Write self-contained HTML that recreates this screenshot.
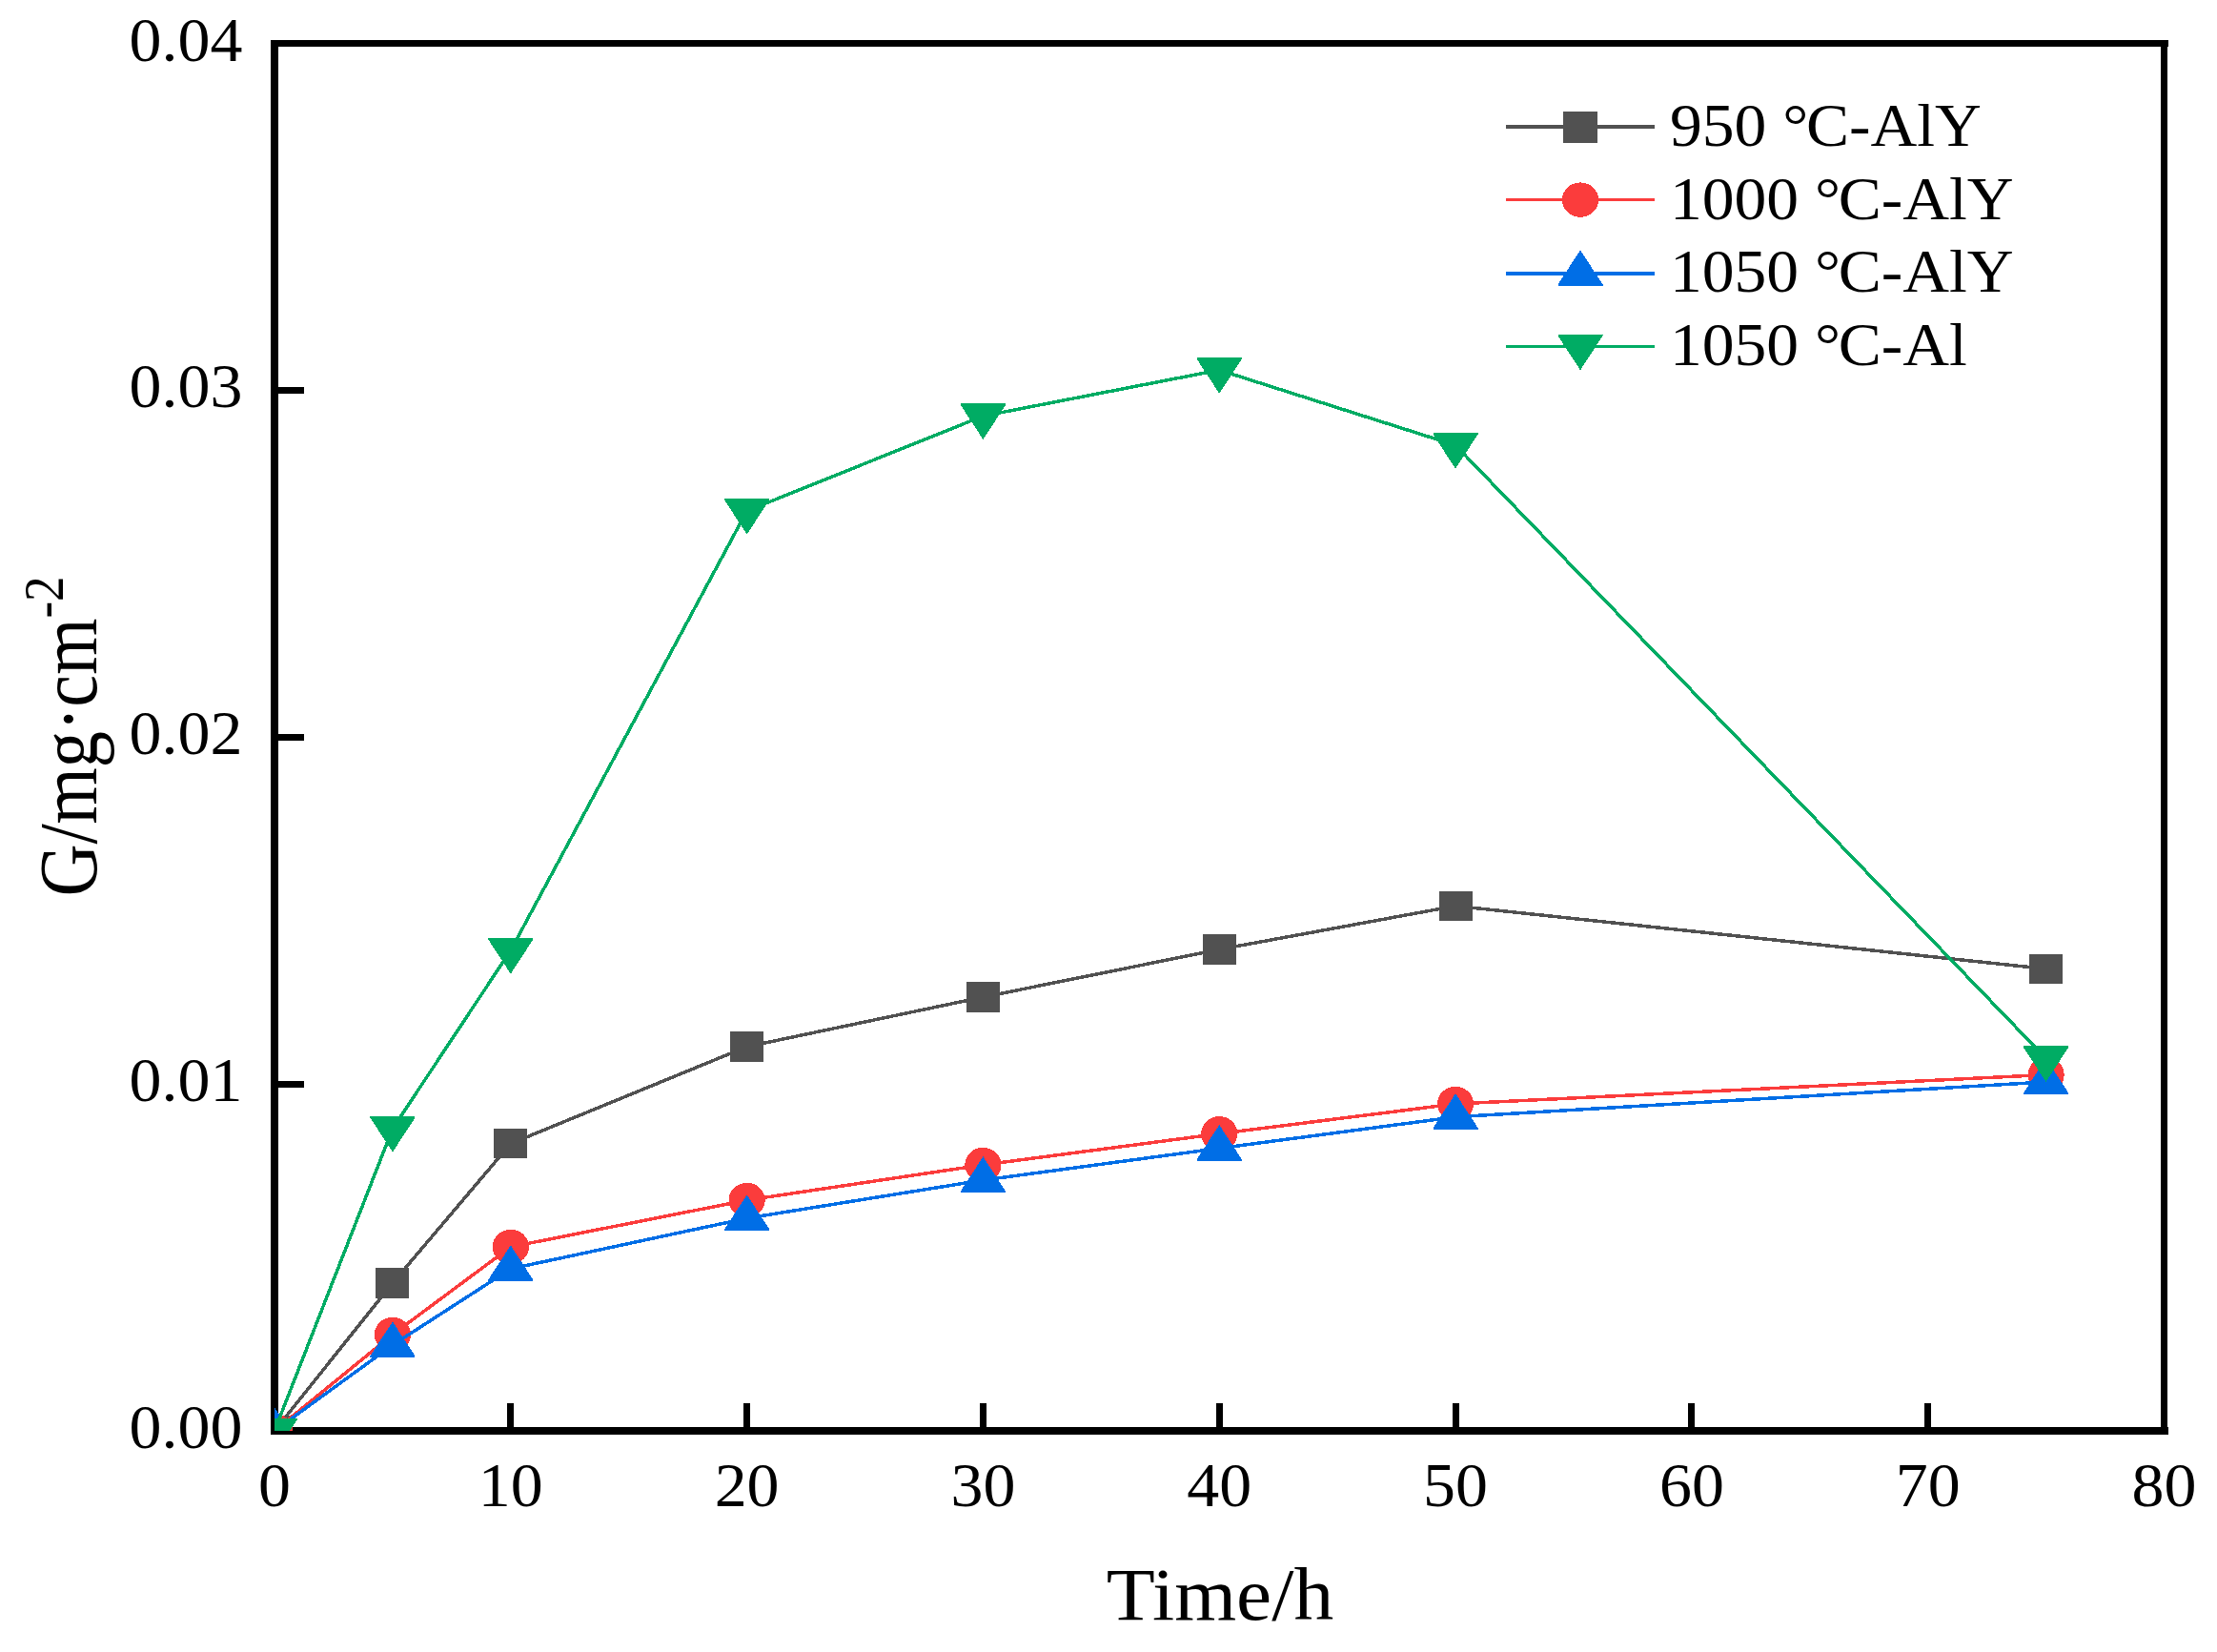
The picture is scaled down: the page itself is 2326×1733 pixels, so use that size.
<!DOCTYPE html>
<html lang="en"><head><meta charset="utf-8"><title>G vs Time</title>
<style>html,body{margin:0;padding:0;background:#fff}svg{display:block}text{font-family:"Liberation Serif",serif;fill:#000}</style>
</head><body>
<svg width="2326" height="1733" viewBox="0 0 2326 1733">
<rect x="0" y="0" width="2326" height="1733" fill="#fff"/>
<defs><clipPath id="plotclip"><rect x="288" y="45.5" width="1982.5" height="1455.5"/></clipPath></defs>
<g fill="#000" shape-rendering="crispEdges">
<rect x="284" y="42" width="8" height="1463"/>
<rect x="284" y="1497" width="1991" height="8"/>
<rect x="284" y="42" width="1991" height="7"/>
<rect x="2267" y="42" width="7" height="1463"/>
<rect x="532" y="1472" width="7" height="26"/>
<rect x="780" y="1472" width="7" height="26"/>
<rect x="1028" y="1472" width="7" height="26"/>
<rect x="1276" y="1472" width="7" height="26"/>
<rect x="1524" y="1472" width="7" height="26"/>
<rect x="1771" y="1472" width="7" height="26"/>
<rect x="2019" y="1472" width="7" height="26"/>
<rect x="291" y="1134" width="28" height="7"/>
<rect x="291" y="770" width="28" height="7"/>
<rect x="291" y="406" width="28" height="7"/>
</g>
<g font-size="65">
<text transform="translate(288,1580) scale(1.045,1)" text-anchor="middle">0</text>
<text transform="translate(535.81,1580) scale(1.045,1)" text-anchor="middle">10</text>
<text transform="translate(783.62,1580) scale(1.045,1)" text-anchor="middle">20</text>
<text transform="translate(1031.44,1580) scale(1.045,1)" text-anchor="middle">30</text>
<text transform="translate(1279.25,1580) scale(1.045,1)" text-anchor="middle">40</text>
<text transform="translate(1527.06,1580) scale(1.045,1)" text-anchor="middle">50</text>
<text transform="translate(1774.88,1580) scale(1.045,1)" text-anchor="middle">60</text>
<text transform="translate(2022.69,1580) scale(1.045,1)" text-anchor="middle">70</text>
<text transform="translate(2270.5,1580) scale(1.045,1)" text-anchor="middle">80</text>
<text transform="translate(254.4,1519.1) scale(1.045,1)" text-anchor="end">0.00</text>
<text transform="translate(254.4,1155.22) scale(1.045,1)" text-anchor="end">0.01</text>
<text transform="translate(254.4,791.35) scale(1.045,1)" text-anchor="end">0.02</text>
<text transform="translate(254.4,427.48) scale(1.045,1)" text-anchor="end">0.03</text>
<text transform="translate(254.4,63.6) scale(1.045,1)" text-anchor="end">0.04</text>
</g>
<text font-size="78.5" transform="translate(1280,1698.7) scale(1.064,1)" text-anchor="middle">Time/h</text>
<text font-size="76.2" transform="translate(100.5,772.5) rotate(-90) scale(1,1.13)" text-anchor="middle">G/mg·cm<tspan font-size="53" dy="-30.5">-2</tspan></text>
<g clip-path="url(#plotclip)" shape-rendering="crispEdges">
<polyline points="288,1501 411.91,1346 535.81,1199.7 783.62,1098 1031.44,1046 1279.25,996 1527.06,950.4 2146.59,1016.4" fill="none" stroke="#515151" stroke-width="3.5" stroke-linejoin="round"/>
<rect x="270.5" y="1485.25" width="35" height="31.5" fill="#515151"/>
<rect x="394.41" y="1330.25" width="35" height="31.5" fill="#515151"/>
<rect x="518.31" y="1183.95" width="35" height="31.5" fill="#515151"/>
<rect x="766.12" y="1082.25" width="35" height="31.5" fill="#515151"/>
<rect x="1013.94" y="1030.25" width="35" height="31.5" fill="#515151"/>
<rect x="1261.75" y="980.25" width="35" height="31.5" fill="#515151"/>
<rect x="1509.56" y="934.65" width="35" height="31.5" fill="#515151"/>
<rect x="2129.09" y="1000.65" width="35" height="31.5" fill="#515151"/>
<polyline points="288,1501 411.91,1400 535.81,1308 783.62,1259 1031.44,1222 1279.25,1189.3 1527.06,1158 2146.59,1127.5" fill="none" stroke="#FB3C3C" stroke-width="3.5" stroke-linejoin="round"/>
<ellipse cx="288" cy="1501" rx="19.1" ry="18.2" fill="#FB3C3C"/>
<ellipse cx="411.91" cy="1400" rx="19.1" ry="18.2" fill="#FB3C3C"/>
<ellipse cx="535.81" cy="1308" rx="19.1" ry="18.2" fill="#FB3C3C"/>
<ellipse cx="783.62" cy="1259" rx="19.1" ry="18.2" fill="#FB3C3C"/>
<ellipse cx="1031.44" cy="1222" rx="19.1" ry="18.2" fill="#FB3C3C"/>
<ellipse cx="1279.25" cy="1189.3" rx="19.1" ry="18.2" fill="#FB3C3C"/>
<ellipse cx="1527.06" cy="1158" rx="19.1" ry="18.2" fill="#FB3C3C"/>
<ellipse cx="2146.59" cy="1127.5" rx="19.1" ry="18.2" fill="#FB3C3C"/>
<polyline points="288,1501 411.91,1411 535.81,1331 783.62,1278 1031.44,1238 1279.25,1204.6 1527.06,1171.7 2146.59,1135" fill="none" stroke="#006EE6" stroke-width="3.5" stroke-linejoin="round"/>
<polygon points="288,1476.4 311.5,1512.4 311.5,1514 264.5,1514 264.5,1512.4" fill="#006EE6"/>
<polygon points="411.91,1386.4 435.41,1422.4 435.41,1424 388.41,1424 388.41,1422.4" fill="#006EE6"/>
<polygon points="535.81,1306.4 559.31,1342.4 559.31,1344 512.31,1344 512.31,1342.4" fill="#006EE6"/>
<polygon points="783.62,1253.4 807.12,1289.4 807.12,1291 760.12,1291 760.12,1289.4" fill="#006EE6"/>
<polygon points="1031.44,1213.4 1054.94,1249.4 1054.94,1251 1007.94,1251 1007.94,1249.4" fill="#006EE6"/>
<polygon points="1279.25,1180 1302.75,1216 1302.75,1217.6 1255.75,1217.6 1255.75,1216" fill="#006EE6"/>
<polygon points="1527.06,1147.1 1550.56,1183.1 1550.56,1184.7 1503.56,1184.7 1503.56,1183.1" fill="#006EE6"/>
<polygon points="2146.59,1110.4 2170.09,1146.4 2170.09,1148 2123.09,1148 2123.09,1146.4" fill="#006EE6"/>
<polyline points="288,1501 411.91,1184 535.81,997 783.62,536 1031.44,436.4 1279.25,388.2 1527.06,467.1 2146.59,1110.3" fill="none" stroke="#00AC64" stroke-width="3.5" stroke-linejoin="round"/>
<polygon points="264.5,1488 311.5,1488 311.5,1489.6 288,1525.6 264.5,1489.6" fill="#00AC64"/>
<polygon points="388.41,1171 435.41,1171 435.41,1172.6 411.91,1208.6 388.41,1172.6" fill="#00AC64"/>
<polygon points="512.31,984 559.31,984 559.31,985.6 535.81,1021.6 512.31,985.6" fill="#00AC64"/>
<polygon points="760.12,523 807.12,523 807.12,524.6 783.62,560.6 760.12,524.6" fill="#00AC64"/>
<polygon points="1007.94,423.4 1054.94,423.4 1054.94,425 1031.44,461 1007.94,425" fill="#00AC64"/>
<polygon points="1255.75,375.2 1302.75,375.2 1302.75,376.8 1279.25,412.8 1255.75,376.8" fill="#00AC64"/>
<polygon points="1503.56,454.1 1550.56,454.1 1550.56,455.7 1527.06,491.7 1503.56,455.7" fill="#00AC64"/>
<polygon points="2123.09,1097.3 2170.09,1097.3 2170.09,1098.9 2146.59,1134.9 2123.09,1098.9" fill="#00AC64"/>
</g>
<rect shape-rendering="crispEdges" x="1580" y="131" width="156" height="4" fill="#515151"/>
<rect x="1640" y="116.6" width="36" height="33" shape-rendering="crispEdges" fill="#515151"/>
<text font-size="64" transform="translate(1752,153.1) scale(1.056,1)">950 °<tspan dx="-2.2">C</tspan>-AlY</text>
<rect shape-rendering="crispEdges" x="1580" y="208" width="156" height="3" fill="#FB3C3C"/>
<ellipse cx="1658" cy="209.6" rx="19.1" ry="18.2" shape-rendering="crispEdges" fill="#FB3C3C"/>
<text font-size="64" transform="translate(1752,229.6) scale(1.056,1)">1000 °<tspan dx="-2.2">C</tspan>-AlY</text>
<rect shape-rendering="crispEdges" x="1580" y="285" width="156" height="4" fill="#006EE6"/>
<polygon points="1658,262.4 1681.5,298.4 1681.5,300 1634.5,300 1634.5,298.4" shape-rendering="crispEdges" fill="#006EE6"/>
<text font-size="64" transform="translate(1752,306.2) scale(1.056,1)">1050 °<tspan dx="-2.2">C</tspan>-AlY</text>
<rect shape-rendering="crispEdges" x="1580" y="362" width="156" height="3" fill="#00AC64"/>
<polygon points="1634.5,350.7 1681.5,350.7 1681.5,352.3 1658,388.3 1634.5,352.3" shape-rendering="crispEdges" fill="#00AC64"/>
<text font-size="64" transform="translate(1752,383.1) scale(1.056,1)">1050 °<tspan dx="-2.2">C</tspan>-Al</text>
</svg>
</body></html>
